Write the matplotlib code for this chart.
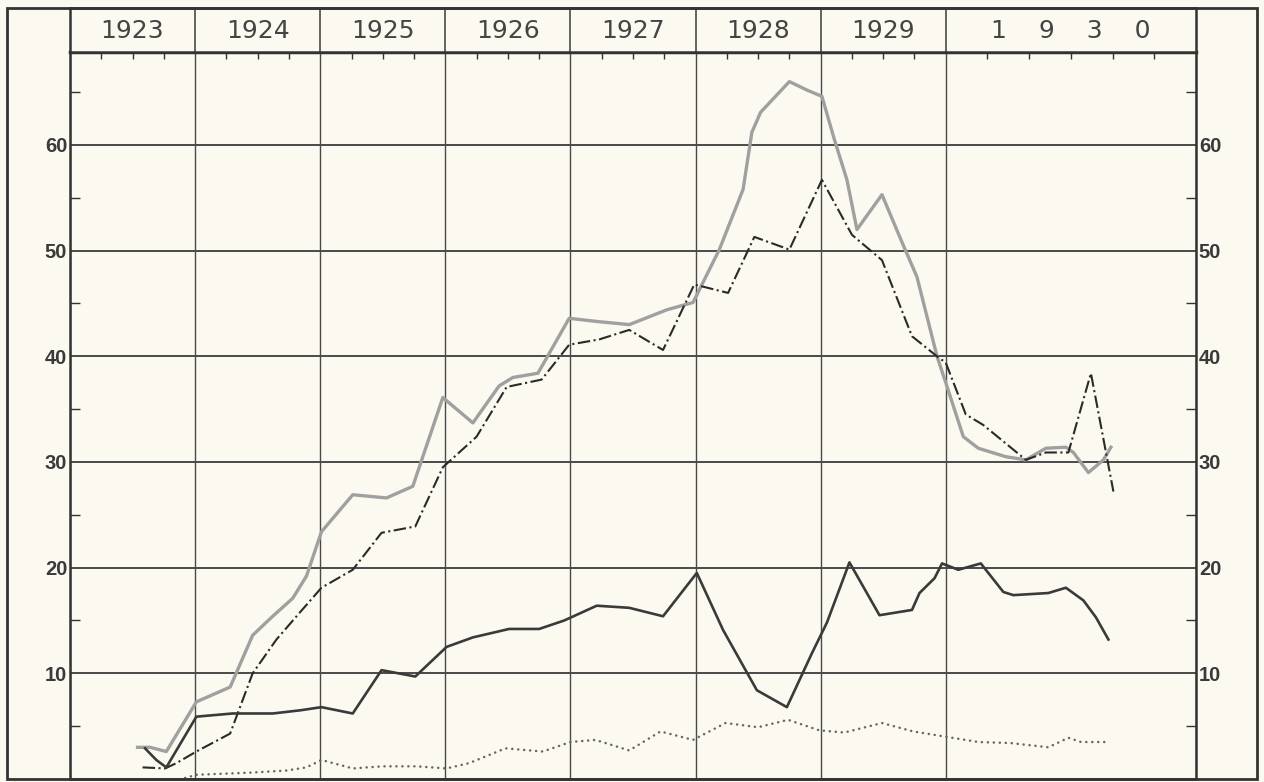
import numpy as np
import matplotlib
matplotlib.use("Agg")
import matplotlib.pyplot as plt
from matplotlib.patches import Rectangle
from matplotlib.ticker import FixedLocator, NullFormatter

plt.rcParams['lines.scale_dashes'] = False

# ---------------- data (decimal years, values) ----------------
year_labels = ['1923', '1924', '1925', '1926', '1927', '1928', '1929', '1    9    3    0']
year_starts = [1923, 1924, 1925, 1926, 1927, 1928, 1929, 1930]
y_ticks = [10, 20, 30, 40, 50, 60]

grey_t = [1923.54, 1923.64, 1923.77, 1924.01, 1924.28, 1924.46, 1924.62, 1924.78, 1924.89,
          1925.01, 1925.26, 1925.53, 1925.74, 1925.98, 1926.22, 1926.43, 1926.54, 1926.74,
          1926.99, 1927.21, 1927.47, 1927.77, 1927.98, 1928.19, 1928.38, 1928.45, 1928.52,
          1928.75, 1928.89, 1929.01, 1929.11, 1929.21, 1929.29, 1929.49, 1929.65, 1929.77,
          1929.93, 1930.00, 1930.07, 1930.13, 1930.24, 1930.32, 1930.40, 1930.48, 1930.51,
          1930.57, 1930.63, 1930.66]
grey_v = [3.0, 3.0, 2.6, 7.3, 8.7, 13.6, 15.4, 17.1, 19.2,
          23.4, 26.9, 26.6, 27.7, 36.1, 33.7, 37.2, 38.0, 38.4,
          43.6, 43.3, 43.0, 44.4, 45.1, 50.1, 55.8, 61.2, 63.1,
          66.0, 65.2, 64.6, 60.5, 56.7, 52.0, 55.3, 50.8, 47.5,
          40.0, 37.5, 32.4, 31.3, 30.5, 30.2, 31.3, 31.4, 30.9,
          29.0, 30.2, 31.4]

dash_t = [1923.58, 1923.76, 1923.85, 1924.01, 1924.28, 1924.46, 1924.65, 1924.84, 1925.01,
          1925.26, 1925.49, 1925.76, 1925.98, 1926.25, 1926.49, 1926.77, 1926.99, 1927.23,
          1927.47, 1927.74, 1927.99, 1928.26, 1928.47, 1928.75, 1929.01, 1929.25, 1929.49,
          1929.73, 1929.93, 1930.00, 1930.08, 1930.15, 1930.32, 1930.40, 1930.49, 1930.58,
          1930.67]
dash_v = [1.1, 1.0, 1.5, 2.6, 4.3, 10.0, 13.2, 15.8, 18.1,
          19.8, 23.3, 23.9, 29.5, 32.4, 37.1, 37.8, 41.1, 41.6,
          42.5, 40.6, 46.8, 46.0, 51.3, 50.1, 56.7, 51.5, 49.1,
          41.9, 40.0, 39.4, 34.5, 33.5, 30.2, 30.9, 30.9, 38.4,
          27.2]

solid_t = [1923.60, 1923.69, 1923.77, 1924.01, 1924.30, 1924.62, 1924.84, 1925.01, 1925.26,
           1925.49, 1925.76, 1926.01, 1926.22, 1926.51, 1926.75, 1926.95, 1927.21, 1927.47,
           1927.74, 1928.01, 1928.22, 1928.49, 1928.73, 1928.93, 1929.05, 1929.23, 1929.47,
           1929.73, 1929.79, 1929.91, 1929.97, 1930.05, 1930.14, 1930.23, 1930.27, 1930.41,
           1930.48, 1930.55, 1930.60, 1930.65]
solid_v = [2.9, 1.8, 1.1, 5.9, 6.2, 6.2, 6.5, 6.8, 6.2,
           10.3, 9.7, 12.5, 13.4, 14.2, 14.2, 15.0, 16.4, 16.2,
           15.4, 19.5, 14.1, 8.4, 6.8, 11.9, 14.8, 20.5, 15.5,
           16.0, 17.6, 19.0, 20.4, 19.8, 20.4, 17.7, 17.4, 17.6,
           18.1, 16.9, 15.3, 13.2]

dot_t = [1923.92, 1924.01, 1924.44, 1924.73, 1924.89, 1925.01, 1925.26, 1925.50, 1925.77,
         1926.01, 1926.19, 1926.48, 1926.78, 1927.00, 1927.20, 1927.47, 1927.72, 1927.98,
         1928.24, 1928.50, 1928.74, 1928.99, 1929.19, 1929.49, 1929.74, 1930.00, 1930.13,
         1930.26, 1930.41, 1930.49, 1930.54, 1930.65]
dot_v = [0.1, 0.4, 0.6, 0.8, 1.1, 1.8, 1.0, 1.2, 1.2,
         1.0, 1.5, 2.9, 2.6, 3.5, 3.7, 2.7, 4.5, 3.7,
         5.3, 4.9, 5.6, 4.6, 4.4, 5.3, 4.5, 4.0, 3.5,
         3.4, 3.0, 3.9, 3.5, 3.5]


# ---------------- scale: 1930 drawn at double width ----------------
def fwd(t):
    t = np.asarray(t, dtype=float)
    return np.where(t < 1930, t - 1923, 7 + 2 * (t - 1930))


def inv(u):
    u = np.asarray(u, dtype=float)
    return np.where(u < 7, u + 1923, 1930 + (u - 7) / 2)


bg = '#fbf9f0'
ink = '#333333'
W, H = 1264, 782

fig = plt.figure(figsize=(W / 100, H / 100), dpi=100, facecolor=bg)

L, R = 70 / W, 1196 / W
B, T = (H - 779) / H, (H - 52) / H
ax = fig.add_axes([L, B, R - L, T - B], facecolor=bg)
ax.set_xscale('function', functions=(fwd, inv))
ax.set_xlim(1923, 1931)
ax.set_ylim(0, 68.8)

# grid
ax.set_xticks(year_starts + [1931])
ax.xaxis.set_major_formatter(NullFormatter())
minor_x = []
for y in year_starts[:-1]:
    minor_x += [y + 0.25, y + 0.5, y + 0.75]
minor_x += [1930 + k / 6 for k in range(1, 6)]
ax.xaxis.set_minor_locator(FixedLocator(minor_x))
ax.xaxis.set_minor_formatter(NullFormatter())
ax.tick_params(axis='x', which='major', length=0, bottom=False, top=False)
ax.tick_params(axis='x', which='minor', direction='in', length=5, width=1.0,
               color=ink, bottom=False, top=True)
ax.grid(axis='x', which='major', color='#4a4a4a', linewidth=1.0)

ax.set_yticks(y_ticks)
ax.yaxis.set_minor_locator(FixedLocator([5, 15, 25, 35, 45, 55, 65]))
ax.tick_params(axis='y', which='major', length=0, left=True, right=True,
               labelleft=True, labelright=True, pad=2, labelsize=14.5, labelcolor='#3a3a3a')
ax.tick_params(axis='y', which='minor', direction='in', length=7, width=1.0,
               color=ink, left=True, right=True)
for lab in ax.get_yticklabels():
    lab.set_fontweight('bold')
    lab.set_family('Liberation Sans')
ax.grid(axis='y', which='major', color='#4a4a4a', linewidth=1.4)
ax.set_axisbelow(True)

for side in ['left', 'right', 'bottom', 'top']:
    ax.spines[side].set_color(ink)
    ax.spines[side].set_linewidth(1.8)
ax.spines['top'].set_linewidth(2.5)

# series
ax.plot(grey_t, grey_v, color='#a0a0a0', lw=2.4, solid_joinstyle='round', zorder=3)
ax.plot(dash_t, dash_v, color='#2a2a2a', lw=1.5, linestyle=(0, (9, 2.5, 1.5, 2.5)), zorder=4)
ax.plot(solid_t, solid_v, color='#3a3a3a', lw=1.9, solid_joinstyle='round', zorder=4)
ax.plot(dot_t, dot_v, color='#666666', lw=1.8, linestyle=(0, (0.1, 4.2)),
        dash_capstyle='round', zorder=4)

# header row with years
hax = fig.add_axes([L, T, R - L, (52 - 8) / H], facecolor=bg)
hax.set_xscale('function', functions=(fwd, inv))
hax.set_xlim(1923, 1931)
hax.set_ylim(0, 1)
hax.set_xticks([])
hax.set_yticks([])
for s in hax.spines.values():
    s.set_color(ink)
    s.set_linewidth(1.8)
for y in year_starts[1:]:
    hax.axvline(y, color='#4a4a4a', lw=1.2)
centers = [y + 0.5 for y in year_starts]
for c, lab in zip(centers, year_labels):
    hax.text(c, 0.47, lab, ha='center', va='center', fontsize=18,
             color='#444444', family='DejaVu Sans')

# outer frame
fig.patches.append(Rectangle((7 / W, (H - 779) / H), (1257 - 7) / W, (779 - 8) / H,
                             transform=fig.transFigure, fill=False,
                             edgecolor=ink, linewidth=2.0))

fig.savefig('out.png', dpi=100, facecolor=bg)
